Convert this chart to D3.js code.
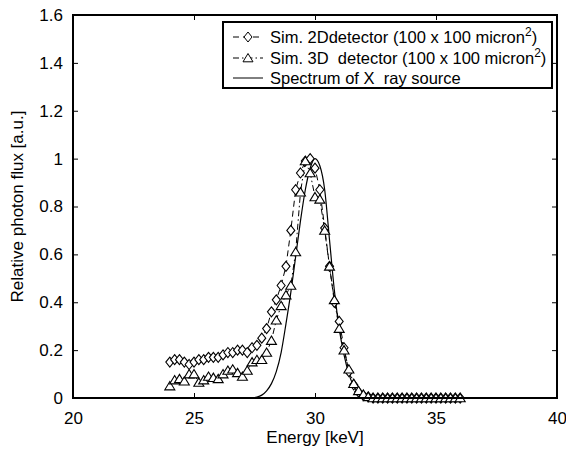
<!DOCTYPE html>
<html>
<head>
<meta charset="utf-8">
<script src="https://cdn.jsdelivr.net/npm/d3@7"></script>
<style>
  html, body { margin: 0; padding: 0; background: #fff; }
  svg { display: block; font-family: "Liberation Sans", Arial, sans-serif; }
</style>
</head>
<body>
<div id="chart"></div>
<script>
// energies for both simulated detectors (keV), 0.2 keV steps
const simEnergy = d3.range(61).map(i => +(24 + i * 0.2).toFixed(1));

// Sim. 2D detector (diamonds)
const sim2D = [
  0.15, 0.16, 0.16, 0.15, 0.14, 0.15, 0.16, 0.16, 0.17, 0.17,
  0.17, 0.18, 0.19, 0.19, 0.20, 0.20, 0.19, 0.21, 0.22, 0.25,
  0.29, 0.36, 0.41, 0.47, 0.55, 0.70, 0.87, 0.94, 0.99, 1.00,
  0.96, 0.87, 0.71, 0.55, 0.40, 0.32, 0.21, 0.11, 0.055, 0.025,
  0.01, 0.005, 0, 0, 0, 0, 0, 0, 0, 0,
  0, 0, 0, 0, 0, 0, 0, 0, 0, 0, 0
];

// Sim. 3D detector (triangles)
const sim3D = [
  0.05, 0.075, 0.08, 0.07, 0.10, 0.10, 0.065, 0.075, 0.09, 0.085,
  0.08, 0.10, 0.115, 0.12, 0.105, 0.09, 0.115, 0.15, 0.16, 0.16,
  0.19, 0.24, 0.325, 0.385, 0.43, 0.47, 0.61, 0.86, 0.99, 0.94,
  0.84, 0.83, 0.70, 0.55, 0.41, 0.29, 0.20, 0.12, 0.06, 0.03,
  0.015, 0.005, 0, 0, 0, 0, 0, 0, 0, 0,
  0, 0, 0, 0, 0, 0, 0, 0, 0, 0, 0
];

// Spectrum of X ray source
const srcEnergy = [27.2, 27.4, 27.6, 27.8, 28.0, 28.2, 28.4, 28.6, 28.8, 29.0,
  29.2, 29.4, 29.6, 29.8, 30.0, 30.2, 30.4, 30.6, 30.8, 31.0,
  31.2, 31.4, 31.6, 31.8, 32.0, 32.2, 32.4];
const srcFlux = [0, 0.001, 0.004, 0.012, 0.03, 0.06, 0.11, 0.19, 0.31, 0.44,
  0.59, 0.74, 0.87, 0.96, 1.0, 0.97, 0.87, 0.66, 0.45, 0.29,
  0.18, 0.10, 0.05, 0.02, 0.008, 0.002, 0];

const xTicks = [20, 25, 30, 35, 40];
const yTicks = [0, 0.2, 0.4, 0.6, 0.8, 1, 1.2, 1.4, 1.6];

const legendLabels = [
  ["Sim. 2Ddetector (100 x 100 micron", "2", ")"],
  ["Sim. 3D  detector (100 x 100 micron", "2", ")"],
  ["Spectrum of X  ray source", "", ""]
];

const width = 566, height = 452;
const margin = { left: 73, right: 9, top: 15, bottom: 54 };
const plotW = width - margin.left - margin.right;
const plotH = height - margin.top - margin.bottom;

const svg = d3.select("#chart").append("svg")
  .attr("width", width)
  .attr("height", height);

const x = d3.scaleLinear().domain([20, 40]).range([0, plotW]);
const y = d3.scaleLinear().domain([0, 1.6]).range([plotH, 0]);

const g = svg.append("g")
  .attr("transform", `translate(${margin.left},${margin.top})`);

// axes with inward ticks on all four sides
const tickLen = 5;
function styleAxis(sel) {
  sel.select(".domain").remove();
  sel.selectAll(".tick line").attr("stroke", "#000").attr("stroke-width", 1);
  sel.selectAll(".tick text").attr("fill", "#000").style("font-size", "17px");
}

g.append("g")
  .attr("transform", `translate(0,${plotH})`)
  .call(d3.axisBottom(x).tickValues(xTicks).tickSize(-tickLen).tickPadding(14).tickFormat(d3.format("d")))
  .call(styleAxis);

g.append("g")
  .call(d3.axisTop(x).tickValues(xTicks).tickSize(-tickLen).tickFormat(""))
  .call(styleAxis);

g.append("g")
  .call(d3.axisLeft(y).tickValues(yTicks).tickSize(-tickLen).tickPadding(10).tickFormat(d => d === 0 || d === 1 ? d3.format("d")(d) : d3.format(".1f")(d)))
  .call(styleAxis);

g.append("g")
  .attr("transform", `translate(${plotW},0)`)
  .call(d3.axisRight(y).tickValues(yTicks).tickSize(-tickLen).tickFormat(""))
  .call(styleAxis);

// curves
const simLine = d3.line()
  .x((d, i) => x(simEnergy[i]))
  .y(d => y(d));

g.append("path")
  .datum(sim2D)
  .attr("fill", "none")
  .attr("stroke", "#000")
  .attr("stroke-width", 1)
  .attr("stroke-dasharray", "6,4")
  .attr("d", simLine);

g.append("path")
  .datum(sim3D)
  .attr("fill", "none")
  .attr("stroke", "#000")
  .attr("stroke-width", 1)
  .attr("stroke-dasharray", "6,3,1.5,3")
  .attr("d", simLine);

const srcLine = d3.line()
  .curve(d3.curveMonotoneX)
  .x((d, i) => x(srcEnergy[i]))
  .y(d => y(d));

g.append("path")
  .datum(srcFlux)
  .attr("fill", "none")
  .attr("stroke", "#000")
  .attr("stroke-width", 1.2)
  .attr("d", srcLine);

// markers
const diamond = "M0,-5L4,0L0,5L-4,0Z";
const triangle = "M0,-4.5L5,3.8L-5,3.8Z";

g.append("g").selectAll("path")
  .data(sim2D)
  .join("path")
  .attr("d", diamond)
  .attr("transform", (d, i) => `translate(${x(simEnergy[i])},${y(d)})`)
  .attr("fill", "#fff")
  .attr("stroke", "#000")
  .attr("stroke-width", 1.1);

g.append("g").selectAll("path")
  .data(sim3D)
  .join("path")
  .attr("d", triangle)
  .attr("transform", (d, i) => `translate(${x(simEnergy[i])},${y(d)})`)
  .attr("fill", "#fff")
  .attr("stroke", "#000")
  .attr("stroke-width", 1.1);

// frame
g.append("rect")
  .attr("width", plotW)
  .attr("height", plotH)
  .attr("fill", "none")
  .attr("stroke", "#000")
  .attr("stroke-width", 2);

// legend
const lg = svg.append("g").attr("transform", "translate(223,22)");
lg.append("rect")
  .attr("width", 329)
  .attr("height", 66)
  .attr("fill", "#fff")
  .attr("stroke", "#000")
  .attr("stroke-width", 2);

const rowY = [15, 36, 56];
const dashes = ["6,4", "6,3,1.5,3", null];
const marks = [diamond, triangle, null];

legendLabels.forEach((lab, i) => {
  const row = lg.append("g").attr("transform", `translate(0,${rowY[i]})`);
  const ln = row.append("line")
    .attr("x1", 10).attr("x2", 40)
    .attr("stroke", "#000").attr("stroke-width", 1);
  if (dashes[i]) ln.attr("stroke-dasharray", dashes[i]);
  if (marks[i]) {
    row.append("path")
      .attr("d", marks[i])
      .attr("transform", "translate(25,0)")
      .attr("fill", "#fff").attr("stroke", "#000");
  }
  const t = row.append("text")
    .attr("x", 47)
    .attr("dy", "0.35em")
    .style("font-size", "16.5px")
    .style("white-space", "pre")
    .attr("fill", "#000");
  t.append("tspan").text(lab[0]);
  if (lab[1]) {
    t.append("tspan").attr("dy", -7).style("font-size", "12px").text(lab[1]);
    t.append("tspan").attr("dy", 7).text(lab[2]);
  }
});

// axis titles
svg.append("text")
  .attr("x", margin.left + plotW / 2)
  .attr("y", 443)
  .attr("text-anchor", "middle")
  .style("font-size", "17px")
  .text("Energy [keV]");

svg.append("text")
  .attr("transform", `translate(23,${margin.top + plotH / 2}) rotate(-90)`)
  .attr("text-anchor", "middle")
  .style("font-size", "17px")
  .text("Relative photon flux [a.u.]");
</script>
</body>
</html>
